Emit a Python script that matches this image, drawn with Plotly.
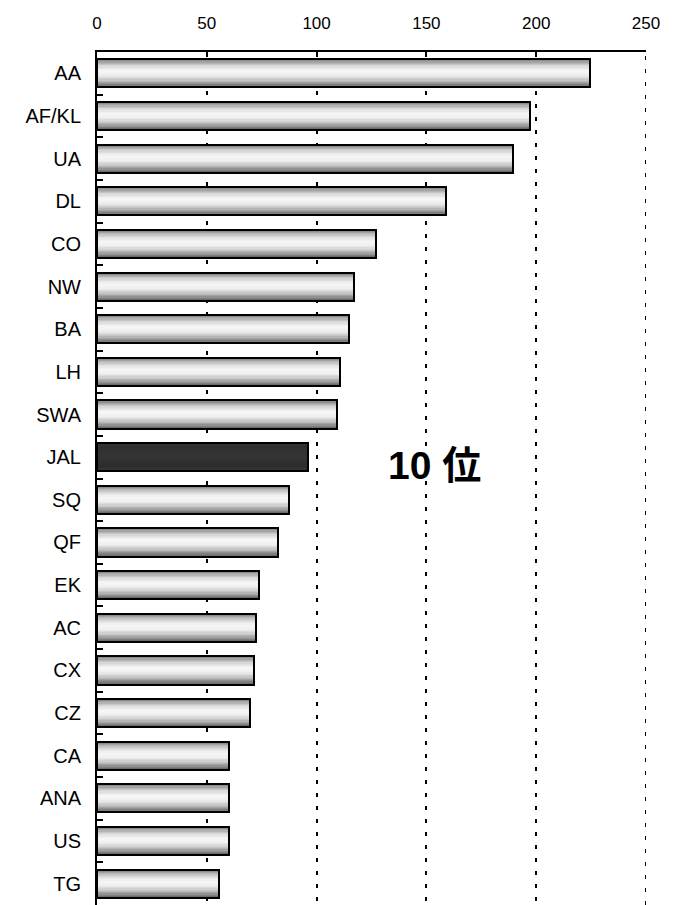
import plotly.graph_objects as go

categories = ["AA", "AF/KL", "UA", "DL", "CO", "NW", "BA", "LH", "SWA", "JAL",
              "SQ", "QF", "EK", "AC", "CX", "CZ", "CA", "ANA", "US", "TG"]
values = [224.7, 197.4, 189.4, 158.9, 127.2, 117.0, 114.9, 110.5, 109.2, 96.3,
          87.4, 82.4, 73.8, 72.4, 71.5, 69.5, 60.1, 60.1, 60.1, 55.5]
highlight = "JAL"
x_ticks = [0, 50, 100, 150, 200, 250]
x_max = 250
rank_label = "10 位"

# vertical shading profile (fraction from top, grey level)
profile = [(0.0, 105), (0.1, 158), (0.25, 215), (0.42, 246), (0.58, 240),
           (0.75, 198), (0.88, 148), (1.0, 100)]
dark_profile = [(0.0, 58), (0.15, 48), (0.5, 52), (0.85, 45), (1.0, 55)]


def grey_at(t, prof):
    for (t0, g0), (t1, g1) in zip(prof[:-1], prof[1:]):
        if t0 <= t <= t1:
            g = g0 + (g1 - g0) * (t - t0) / (t1 - t0)
            return int(round(g))
    return prof[-1][1]


BAR_W = 0.66
N = 22
fig = go.Figure()
for k in range(N):
    t = (k + 0.5) / N
    g = grey_at(t, profile)
    gd = grey_at(t, dark_profile)
    cols = [f"rgb({gd},{gd},{gd})" if c == highlight else f"rgb({g},{g},{g})"
            for c in categories]
    fig.add_trace(go.Bar(
        x=values, y=categories, orientation="h",
        width=BAR_W / N * 1.2, offset=-BAR_W / 2 + k * BAR_W / N,
        marker=dict(color=cols, line=dict(width=0)),
        hoverinfo="skip", showlegend=False,
    ))

fig.add_trace(go.Bar(
    x=values, y=categories, orientation="h", width=BAR_W,
    marker=dict(color="rgba(0,0,0,0)", line=dict(color="black", width=2)),
    showlegend=False,
))

font_main = "Liberation Sans, Arial, sans-serif"

fig.add_annotation(
    x=153.6, y=highlight, yshift=-8, text=f"<b>{rank_label}</b>",
    showarrow=False,
    font=dict(family="Liberation Sans, Noto Sans CJK JP, sans-serif",
              size=39, color="black"),
)

# gridline at the right end of the axis (plotly omits grid at range ends)
fig.add_shape(
    type="line", xref="x", yref="paper", x0=x_max, x1=x_max, y0=0, y1=1,
    line=dict(color="black", width=2, dash="4px,9px"), layer="below",
)

fig.update_layout(
    width=665, height=897,
    margin=dict(l=89, r=27, t=44, b=0),
    paper_bgcolor="white", plot_bgcolor="white",
    barmode="overlay", bargap=0,
    font=dict(family=font_main, color="black"),
)
fig.update_xaxes(
    side="top", range=[0, x_max], tickvals=x_ticks,
    ticks="inside", ticklen=5, tickwidth=2, tickcolor="black",
    showline=True, linewidth=2, linecolor="black",
    showgrid=True, gridcolor="black", gridwidth=2, griddash="4px,9px",
    zeroline=False, tickfont=dict(size=17, family=font_main),
    ticklabelstandoff=14,
)
fig.update_yaxes(
    type="category", categoryorder="array", categoryarray=categories,
    range=[len(categories) - 0.5, -0.5],
    ticks="inside", tickson="boundaries", ticklen=6, tickwidth=2, tickcolor="black",
    showline=True, linewidth=2, linecolor="black", showgrid=False,
    tickfont=dict(size=20, family=font_main), ticklabelstandoff=10,
)

fig.write_html("out.html")
